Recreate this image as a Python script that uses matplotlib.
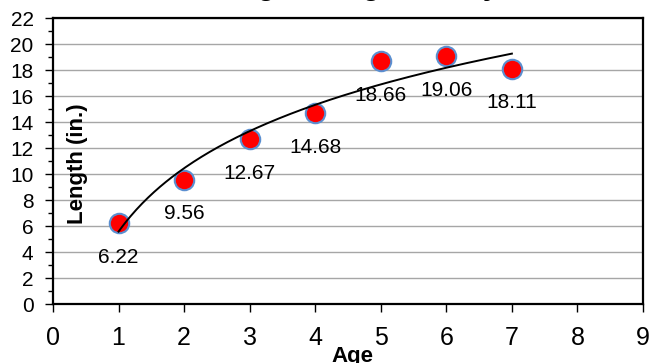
import numpy as np
import matplotlib
matplotlib.use("Agg")
import matplotlib.pyplot as plt
from matplotlib.ticker import MultipleLocator

plt.rcParams["font.family"] = ["Liberation Sans", "DejaVu Sans"]

ages = [1, 2, 3, 4, 5, 6, 7]
lengths = [6.22, 9.56, 12.67, 14.68, 18.66, 19.06, 18.11]
x_ticks = list(range(0, 10))
y_ticks = list(range(0, 23, 2))

fig = plt.figure(figsize=(6.52, 3.63), dpi=100)
ax = fig.add_axes([53 / 652, 1 - 304 / 363, 590 / 652, 286 / 363])

# log trendline through the points
a, b = np.polyfit(np.log(ages), lengths, 1)
xs = np.linspace(min(ages), max(ages), 200)
ax.plot(xs, a * np.log(xs) + b, color="black", lw=1.4, zorder=3)

ax.plot(ages, lengths, "o", ms=14, mfc="#ff0000", mec="#5b8fd0", mew=1.5,
        zorder=2)

for x, y in zip(ages, lengths):
    ax.annotate(f"{y:.2f}", (x, y), xytext=(0, -24.5), textcoords="offset points",
                ha="center", va="center", fontsize=15)

ax.set_xlim(0, 9)
ax.set_ylim(0, 22)
ax.set_xticks(x_ticks)
ax.set_yticks(y_ticks)
ax.yaxis.set_minor_locator(MultipleLocator(1))
ax.grid(axis="y", color="#a6a6a6", lw=1)
ax.set_axisbelow(True)
for s in ax.spines.values():
    s.set_linewidth(1.6)

ax.tick_params(axis="x", direction="out", length=6, width=1, pad=10, labelsize=18)
ax.tick_params(axis="y", which="major", direction="out", length=6, width=1,
               pad=8, labelsize=15)
ax.tick_params(axis="y", which="minor", direction="out", length=3.5, width=1)

ax.text(77 / 652, 0.55, "Length (in.)", transform=fig.transFigure, rotation=90,
        ha="center", va="center", fontsize=16, fontweight="bold")
fig.text(352 / 652, 1 - 362 / 363, "Age", ha="center", va="baseline",
         fontsize=16, fontweight="bold")
fig.text(353 / 652, 1 + 5 / 363, "Length at Age Survey", ha="center",
         va="baseline", fontsize=20.5, fontweight="bold")

fig.savefig("out.png", dpi=100)
